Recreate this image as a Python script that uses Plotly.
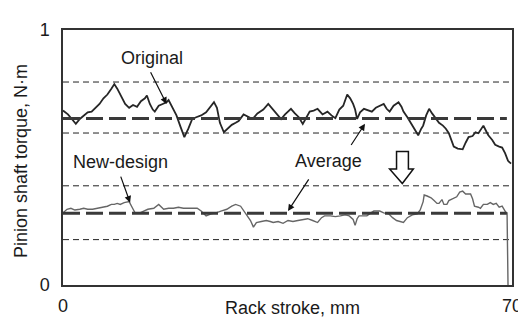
import plotly.graph_objects as go

# ---- data ----
orig_x = [0.0, 0.77, 1.38, 2.0, 2.62, 3.23, 3.85, 4.46, 5.08, 5.69, 6.31, 6.92, 7.54, 8.0, 8.46, 9.08,
          9.69, 10.31, 10.92, 11.54, 12.15, 12.77, 13.08, 13.54, 14.0, 14.31, 14.92, 15.54, 16.15, 16.46,
          17.08, 17.69, 18.31, 18.92, 19.54, 20.15, 20.77, 21.54, 22.31, 22.92, 23.54, 24.0, 24.46, 25.08,
          25.69, 26.31, 26.92, 27.38, 28.15, 28.92, 29.54, 30.31, 31.23, 32.0, 32.62, 33.08, 33.54, 34.0,
          34.62, 35.54, 36.15, 36.77, 37.38, 38.0, 38.46, 39.08, 39.69, 40.46, 41.23, 41.85, 42.46, 43.08,
          43.69, 44.31, 44.77, 45.23, 45.54, 45.85, 46.31, 46.92, 47.54, 48.15, 48.77, 49.38, 50.0, 50.46,
          50.92, 51.54, 52.31, 52.77, 53.08, 53.69, 54.31, 54.92, 55.38, 55.85, 56.15, 56.62, 57.08, 57.54,
          58.15, 58.62, 59.23, 59.69, 60.15, 60.62, 60.92, 61.54, 62.31, 62.77, 63.23, 63.85, 64.31, 64.77,
          65.23, 65.54, 66.0, 66.31, 66.92, 67.38, 68.0, 68.46, 68.92, 69.38, 69.85]
orig_y = [0.684, 0.669, 0.651, 0.632, 0.651, 0.665, 0.677, 0.680, 0.695, 0.710, 0.732, 0.747, 0.770, 0.788,
          0.770, 0.740, 0.710, 0.695, 0.706, 0.699, 0.721, 0.732, 0.743, 0.710, 0.688, 0.680, 0.703, 0.710,
          0.717, 0.725, 0.695, 0.665, 0.621, 0.580, 0.613, 0.651, 0.658, 0.665, 0.677, 0.695, 0.717, 0.695,
          0.636, 0.599, 0.613, 0.628, 0.636, 0.643, 0.669, 0.658, 0.651, 0.673, 0.688, 0.710, 0.691, 0.680,
          0.665, 0.651, 0.669, 0.691, 0.673, 0.658, 0.632, 0.662, 0.680, 0.684, 0.691, 0.669, 0.680, 0.665,
          0.654, 0.688, 0.703, 0.747, 0.732, 0.710, 0.688, 0.651, 0.677, 0.691, 0.684, 0.680, 0.695, 0.703,
          0.710, 0.691, 0.680, 0.703, 0.717, 0.699, 0.680, 0.658, 0.632, 0.606, 0.587, 0.613, 0.625, 0.665,
          0.691, 0.673, 0.651, 0.636, 0.625, 0.613, 0.595, 0.565, 0.543, 0.535, 0.532, 0.558, 0.580, 0.584,
          0.599, 0.595, 0.613, 0.625, 0.602, 0.587, 0.569, 0.550, 0.543, 0.539, 0.517, 0.487, 0.476]

new_x = [0.0, 0.62, 1.23, 1.85, 2.62, 3.23, 3.85, 4.62, 5.38, 6.15, 6.92, 7.54, 8.0, 8.46, 8.92, 9.54,
         10.31, 10.77, 11.23, 12.0, 12.62, 13.23, 14.15, 14.92, 15.69, 16.46, 17.23, 18.0, 18.77, 19.69,
         20.31, 20.92, 21.54, 22.31, 23.08, 23.85, 24.62, 25.54, 26.31, 26.92, 27.69, 28.46, 29.23, 29.69,
         30.15, 30.92, 31.69, 32.31, 32.77, 33.54, 34.31, 35.08, 35.85, 36.62, 37.38, 38.15, 38.92, 39.69,
         40.31, 40.77, 41.69, 42.46, 43.23, 44.0, 44.62, 45.23, 45.54, 45.85, 46.15, 46.92, 47.38, 48.0,
         48.46, 49.38, 50.0, 50.77, 51.38, 52.0, 53.08, 53.69, 54.46, 55.23, 55.69, 56.15, 56.31, 56.77,
         57.38, 57.85, 58.31, 58.62, 59.08, 59.38, 59.85, 60.15, 60.46, 60.92, 61.38, 61.85, 62.31, 62.77,
         63.08, 63.54, 63.85, 64.15, 64.77, 65.08, 65.54, 66.15, 66.62, 67.08, 67.54, 68.0, 68.46, 68.77,
         69.08, 69.23, 69.38]
new_y = [0.283, 0.297, 0.301, 0.294, 0.297, 0.301, 0.297, 0.297, 0.301, 0.305, 0.309, 0.316, 0.316, 0.320,
         0.316, 0.323, 0.327, 0.305, 0.283, 0.283, 0.290, 0.297, 0.301, 0.316, 0.297, 0.301, 0.301, 0.305,
         0.301, 0.301, 0.301, 0.301, 0.290, 0.271, 0.279, 0.283, 0.290, 0.297, 0.309, 0.316, 0.309, 0.279,
         0.253, 0.227, 0.245, 0.249, 0.253, 0.249, 0.245, 0.249, 0.242, 0.253, 0.249, 0.253, 0.257, 0.260,
         0.253, 0.245, 0.264, 0.271, 0.271, 0.268, 0.271, 0.275, 0.271, 0.257, 0.234, 0.260, 0.271, 0.271,
         0.271, 0.283, 0.290, 0.290, 0.283, 0.279, 0.264, 0.253, 0.245, 0.264, 0.275, 0.279, 0.294, 0.327,
         0.353, 0.349, 0.342, 0.331, 0.320, 0.320, 0.335, 0.316, 0.316, 0.331, 0.335, 0.338, 0.346, 0.364,
         0.368, 0.357, 0.357, 0.357, 0.338, 0.309, 0.305, 0.301, 0.316, 0.316, 0.323, 0.316, 0.320, 0.305,
         0.309, 0.294, 0.283, 0.283, 0.0]

orig_mean = 0.653
orig_band = [0.596, 0.796]
new_mean = 0.281
new_band = [0.178, 0.389]
mean_x_end = 69.2
x_range = [0, 70]
y_range = [0, 1]
x_ticks = [0, 70]
y_ticks = [0, 1]

FONT = "Liberation Sans, Arial, Helvetica, sans-serif"

fig = go.Figure()

# band (thin dashed) lines
for yv in orig_band + new_band:
    fig.add_trace(go.Scatter(x=x_range, y=[yv, yv], mode="lines",
                             line=dict(color="#222222", width=1, dash="6px,4px"),
                             hoverinfo="skip", showlegend=False))

# curves
fig.add_trace(go.Scatter(x=new_x, y=new_y, mode="lines",
                         line=dict(color="#666666", width=1.4), showlegend=False))
fig.add_trace(go.Scatter(x=orig_x, y=orig_y, mode="lines",
                         line=dict(color="#262626", width=1.8), showlegend=False))

# average (thick dashed) lines
for yv in [orig_mean, new_mean]:
    fig.add_trace(go.Scatter(x=[0, mean_x_end], y=[yv, yv], mode="lines",
                             line=dict(color="#3a3a3a", width=3, dash="17px,6px"),
                             hoverinfo="skip", showlegend=False))

tf = dict(family=FONT, size=18, color="#1a1a1a")
annots = [
    dict(x=13.85, y=0.892, text="Original", showarrow=False, font=tf),
    dict(x=8.92, y=0.483, text="New-design", showarrow=False, font=tf),
    dict(x=41.38, y=0.487, text="Average", showarrow=False, font=tf),
]
arrows = [
    ((13.54, 0.840), (16.15, 0.710)),
    ((8.92, 0.431), (10.46, 0.323)),
    ((44.77, 0.543), (47.08, 0.632)),
    ((38.46, 0.420), (35.08, 0.290)),
]
for (tx, ty), (hx, hy) in arrows:
    annots.append(dict(x=hx, y=hy, ax=tx, ay=ty, axref="x", ayref="y", text="",
                       showarrow=True, arrowhead=2, arrowsize=1.1, arrowwidth=1.2,
                       arrowcolor="#111111", standoff=0, startstandoff=0))
# axis titles
annots.append(dict(xref="paper", yref="paper", x=0.511, y=-0.089, text="Rack stroke, mm",
                   showarrow=False, font=tf, xanchor="center", yanchor="middle"))
annots.append(dict(xref="paper", yref="paper", x=-0.093, y=0.487, text="Pinion shaft torque, N·m",
                   showarrow=False, font=tf, textangle=-90, xanchor="center", yanchor="middle"))

# block arrow (down)
fig.add_shape(type="path", xref="x", yref="y",
              path="M 52.0 0.524 L 53.85 0.524 L 53.85 0.455 L 54.62 0.455 L 52.9 0.398 "
                   "L 50.92 0.455 L 52.0 0.455 Z",
              fillcolor="white", line=dict(color="#111111", width=1.5))

fig.update_layout(
    width=526, height=320,
    margin=dict(l=55, r=16, t=14, b=37),
    paper_bgcolor="white", plot_bgcolor="white",
    font=dict(family=FONT, size=18, color="#1a1a1a"),
    annotations=annots,
    showlegend=False,
)
fig.update_xaxes(range=x_range, tickvals=x_ticks, ticktext=[str(v) for v in x_ticks],
                 showgrid=False, zeroline=False, showline=True, linecolor="#333333", linewidth=1.5,
                 mirror=True, ticks="", ticklabelstandoff=4, tickfont=tf)
fig.update_yaxes(range=y_range, tickvals=y_ticks, ticktext=[str(v) for v in y_ticks],
                 showgrid=False, zeroline=False, showline=True, linecolor="#333333", linewidth=1.5,
                 mirror=True, ticks="", ticklabelstandoff=8, tickfont=tf)

fig.write_html("out.html")
